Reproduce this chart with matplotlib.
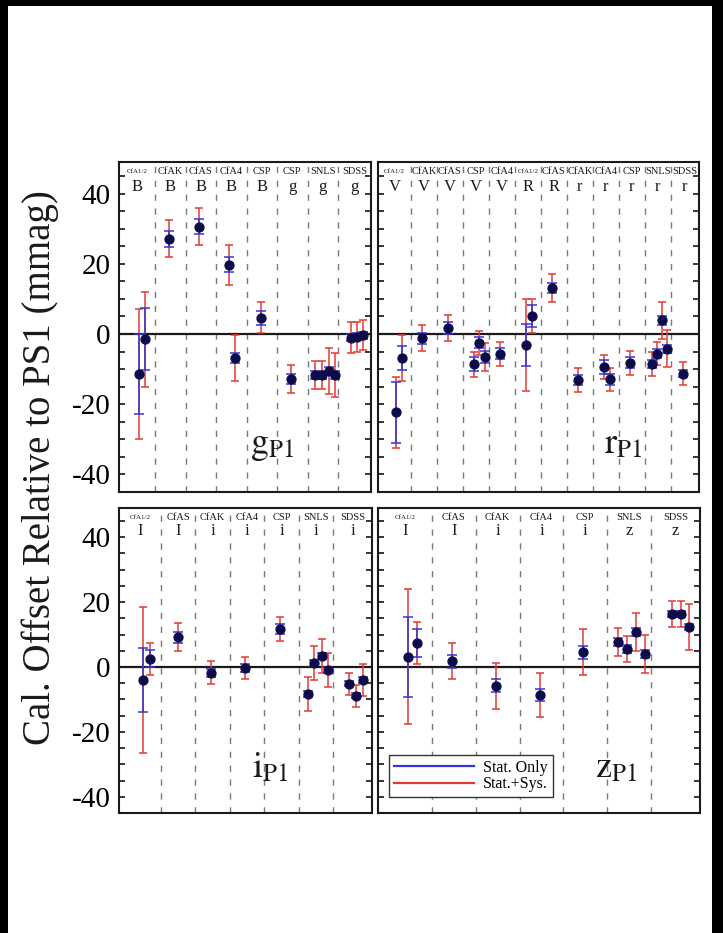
import matplotlib
matplotlib.use('Agg')
import matplotlib.pyplot as plt
from matplotlib.lines import Line2D
from matplotlib.patches import Rectangle
from matplotlib.ticker import MultipleLocator

plt.rcParams.update({
    'font.family': 'serif',
    'font.serif': ['Liberation Serif', 'DejaVu Serif'],
    'mathtext.fontset': 'stix',
    'axes.unicode_minus': False,
})

RED = '#e23a36'
BLUE = '#3434d4'
NAVY = '#0c0c4a'
DASH = '#7a7a7a'
INK = '#1a1a1a'

# --- g band ---------------------------------------------------------------
g_surveys = ['CfA1/2', 'CfAK', 'CfAS', 'CfA4', 'CSP', 'CSP', 'SNLS', 'SDSS']
g_filters = ['B', 'B', 'B', 'B', 'B', 'g', 'g', 'g']
g_x = [0.48, 0.67, 1.46, 2.43, 3.43, 3.62, 4.46, 5.47, 6.23, 6.46, 6.69, 6.89, 7.43, 7.62, 7.82]
g_val = [-11.4, -1.5, 27.1, 30.6, 19.7, -6.8, 4.6, -12.9, -11.7, -11.7, -10.6, -11.7, -1.0, -0.8, -0.3]
g_stat = [11.5, 8.8, 2.3, 2.1, 2.1, 1.4, 1.9, 1.4, 1.2, 1.2, 1.2, 1.2, 1.0, 1.0, 1.0]
g_tot = [18.6, 13.6, 5.3, 5.3, 5.7, 6.6, 4.4, 4.0, 4.1, 4.0, 6.5, 6.3, 4.3, 4.3, 4.3]

# --- r band ---------------------------------------------------------------
r_surveys = ['CfA1/2', 'CfAK', 'CfAS', 'CSP', 'CfA4', 'CfA1/2', 'CfAS', 'CfAK', 'CfA4', 'CSP', 'SNLS', 'SDSS']
r_filters = ['V', 'V', 'V', 'V', 'V', 'R', 'R', 'r', 'r', 'r', 'r', 'r']
r_x = [0.42, 0.65, 1.42, 2.42, 3.42, 3.62, 3.85, 4.42, 5.42, 5.65, 6.42, 7.42, 8.42, 8.65,
       9.42, 10.27, 10.46, 10.65, 10.85, 11.46]
r_val = [-22.3, -6.9, -1.2, 1.8, -8.6, -2.5, -6.5, -5.6, -3.1, 5.1, 13.1, -13.1, -9.4, -12.9,
         -8.2, -8.5, -5.6, 3.9, -4.2, -11.3]
r_stat = [8.7, 3.4, 1.6, 1.7, 2.0, 1.6, 1.7, 1.6, 5.9, 3.1, 1.5, 1.5, 2.0, 1.5,
          1.6, 1.2, 1.2, 1.2, 1.2, 1.0]
r_tot = [10.1, 6.5, 3.7, 3.7, 3.6, 3.4, 3.9, 3.4, 13.0, 4.9, 4.0, 3.4, 3.4, 3.3,
         3.4, 3.4, 3.3, 5.2, 5.3, 3.2]

# --- i band ---------------------------------------------------------------
i_surveys = ['CfA1/2', 'CfAS', 'CfAK', 'CfA4', 'CSP', 'SNLS', 'SDSS']
i_filters = ['I', 'I', 'i', 'i', 'i', 'i', 'i']
i_x = [0.48, 0.68, 1.49, 2.46, 3.45, 4.47, 5.26, 5.45, 5.69, 5.86, 6.47, 6.67, 6.87]
i_val = [-4.0, 2.5, 9.2, -1.8, -0.3, 11.7, -8.3, 1.2, 3.4, -0.9, -5.2, -8.8, -4.0]
i_stat = [9.8, 2.6, 1.7, 1.2, 1.2, 1.5, 1.0, 1.0, 1.0, 1.0, 0.8, 0.8, 0.8]
i_tot = [22.4, 4.9, 4.3, 3.5, 3.5, 3.6, 5.2, 5.2, 5.3, 5.2, 3.4, 3.4, 4.8]

# --- z band ---------------------------------------------------------------
z_surveys = ['CfA1/2', 'CfAS', 'CfAK', 'CfA4', 'CSP', 'SNLS', 'SDSS']
z_filters = ['I', 'I', 'i', 'i', 'i', 'z', 'z']
z_x = [0.45, 0.66, 1.46, 2.46, 3.46, 4.46, 5.25, 5.46, 5.66, 5.86, 6.48, 6.68, 6.86]
z_val = [3.1, 7.4, 1.8, -5.8, -8.6, 4.6, 7.7, 5.5, 10.8, 4.0, 16.3, 16.3, 12.3]
z_stat = [12.3, 4.2, 2.0, 2.0, 1.8, 2.0, 1.3, 1.3, 1.3, 1.3, 1.0, 1.0, 1.0]
z_tot = [20.8, 6.6, 5.5, 7.1, 6.8, 7.2, 4.2, 4.0, 5.8, 5.8, 4.0, 4.0, 7.2]

W, H = 723, 933
YLIM = (-45, 49)


def px_axes(fig, x0, x1, y0, y1):
    # pixel box (top-left origin) -> figure axes
    return fig.add_axes([x0 / W, 1 - y1 / H, (x1 - x0) / W, (y1 - y0) / H])


def panel(ax, xs, vals, stat, tot, surveys, filters, xlim, band, band_frac, left_labels):
    ax.set_xlim(*xlim)
    ax.set_ylim(*YLIM)
    n = len(surveys)
    edges = [xlim[0]] + list(range(1, n)) + [xlim[1]]
    for e in range(1, n):
        ax.axvline(e, color=DASH, lw=1.0, ls=(0, (4.5, 5.5)), zorder=1)
    ax.axhline(0, color=INK, lw=1.6, zorder=2)

    # survey / filter header for each column
    for k, (s, f) in enumerate(zip(surveys, filters)):
        xc = (edges[k] + edges[k + 1]) / 2
        ax.text(xc, 46.2, s, fontsize=5 if s == 'CfA1/2' else 7.5,
                ha='center', va='center', color=INK)
        ax.text(xc, 41.8, f, fontsize=12, ha='center', va='center', color=INK)

    ax.errorbar(xs, vals, yerr=tot, fmt='none', ecolor=RED, elinewidth=1.1,
                capsize=3.0, capthick=1.1, zorder=3)
    ax.errorbar(xs, vals, yerr=stat, fmt='none', ecolor=BLUE, elinewidth=1.1,
                capsize=3.8, capthick=1.1, zorder=4)
    ax.plot(xs, vals, 'o', color=NAVY, ms=6.4, zorder=5)

    bx = xlim[0] + band_frac * (xlim[1] - xlim[0])
    ax.text(bx, -34, r'$\mathrm{%s}_{\mathrm{P1}}$' % band, fontsize=26,
            ha='center', va='baseline', color=INK)

    ax.set_xticks([])
    ax.yaxis.set_major_locator(MultipleLocator(20))
    ax.yaxis.set_minor_locator(MultipleLocator(5))
    ax.tick_params(axis='y', which='both', direction='in', left=True, right=True,
                   length=4, width=1.1, labelsize=21, pad=6, labelleft=left_labels)
    for sp in ax.spines.values():
        sp.set_linewidth(1.5)
        sp.set_color(INK)


fig = plt.figure(figsize=(W / 100, H / 100), dpi=100, facecolor='black')
fig.add_artist(Rectangle((8 / W, 0), (712 - 8) / W, (H - 6) / H, transform=fig.transFigure,
                         facecolor='white', edgecolor='none', zorder=-10))

ax_g = px_axes(fig, 119, 371, 162, 492)
ax_r = px_axes(fig, 378, 699, 162, 492)
ax_i = px_axes(fig, 119, 372, 508, 813)
ax_z = px_axes(fig, 378, 700, 508, 813)

panel(ax_g, g_x, g_val, g_stat, g_tot, g_surveys, g_filters, (-0.18, 8.08), 'g', 0.607, True)
panel(ax_r, r_x, r_val, r_stat, r_tot, r_surveys, r_filters, (-0.27, 12.08), 'r', 0.763, False)
panel(ax_i, i_x, i_val, i_stat, i_tot, i_surveys, i_filters, (-0.22, 7.13), 'i', 0.597, True)
panel(ax_z, z_x, z_val, z_stat, z_tot, z_surveys, z_filters, (-0.23, 7.12), 'z', 0.739, False)

handles = [Line2D([], [], color=BLUE, lw=1.6), Line2D([], [], color=RED, lw=1.6)]
leg = ax_z.legend(handles, ['Stat. Only', 'Stat.+Sys.'], loc='lower left',
                  bbox_to_anchor=(0.034, 0.052), borderaxespad=0, fontsize=11.5,
                  handlelength=5.0, handletextpad=0.6, borderpad=0.3, labelspacing=0.02,
                  fancybox=False, framealpha=1, edgecolor='#333333')
leg.get_frame().set_linewidth(1.0)

fig.text(40 / W, 1 - 468 / H, 'Cal. Offset Relative to PS1 (mmag)', rotation=90,
         fontsize=28, ha='center', va='center', color=INK)

fig.savefig('out.png', dpi=100, facecolor='black')
